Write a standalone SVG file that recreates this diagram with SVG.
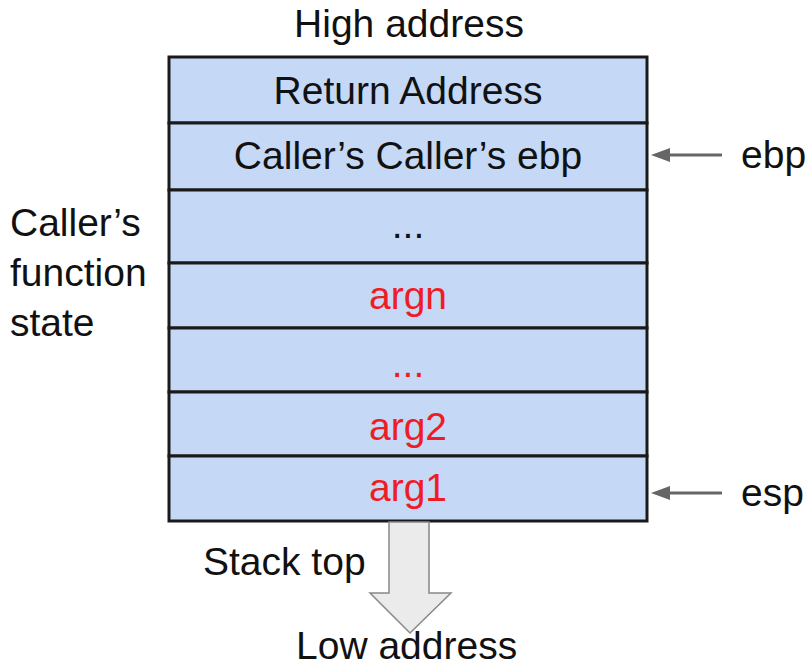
<svg xmlns="http://www.w3.org/2000/svg" width="809" height="670" viewBox="0 0 809 670">
<style>
text{font-family:"Liberation Sans",Arial,sans-serif;font-size:39px;fill:#111}
.c{text-anchor:middle}
.r{fill:#ee1c24}
.cell{fill:#c5d8f5;stroke:#1a1a1a;stroke-width:3}
.ptr{stroke:#666;stroke-width:3;fill:none}
.ah{fill:#666}
</style>
<rect width="809" height="670" fill="#fff"/>
<text class="c" x="409" y="37">High address</text>
<g id="row-ret"><rect class="cell" x="169" y="57" width="478" height="66"/><text class="c" x="408" y="104">Return Address</text></g>
<g id="row-ebp"><rect class="cell" x="169" y="123" width="478" height="67"/><text class="c" x="408" y="169">Caller’s Caller’s ebp</text></g>
<g id="row-dots1"><rect class="cell" x="169" y="190" width="478" height="73"/><text class="c" x="408" y="238">...</text></g>
<g id="row-argn"><rect class="cell" x="169" y="263" width="478" height="65"/><text class="c r" x="408" y="309">argn</text></g>
<g id="row-dots2"><rect class="cell" x="169" y="328" width="478" height="64"/><text class="c r" x="408" y="377">...</text></g>
<g id="row-arg2"><rect class="cell" x="169" y="392" width="478" height="64"/><text class="c r" x="408" y="440">arg2</text></g>
<g id="row-arg1"><rect class="cell" x="169" y="456" width="478" height="65"/><text class="c r" x="408" y="501">arg1</text></g>
<g id="label-state"><text x="10" y="236">Caller’s</text><text x="10" y="286">function</text><text x="10" y="336">state</text></g>
<g id="label-ebp"><text x="741" y="168">ebp</text></g>
<g id="label-esp"><text x="741" y="506">esp</text></g>
<g id="connectors">
<line class="ptr" x1="668" y1="155" x2="722" y2="155"/>
<polygon class="ah" points="651,155 670,148 670,162"/>
<line class="ptr" x1="668" y1="493" x2="722" y2="493"/>
<polygon class="ah" points="651,493 670,486 670,500"/>
<polygon points="389,522 429,522 429,593 451,593 410,633 370,593 389,593" fill="#ebebeb" stroke="#888" stroke-width="1.5"/>
</g>
<text x="203" y="575">Stack top</text>
<text x="296" y="659">Low address</text>
</svg>
